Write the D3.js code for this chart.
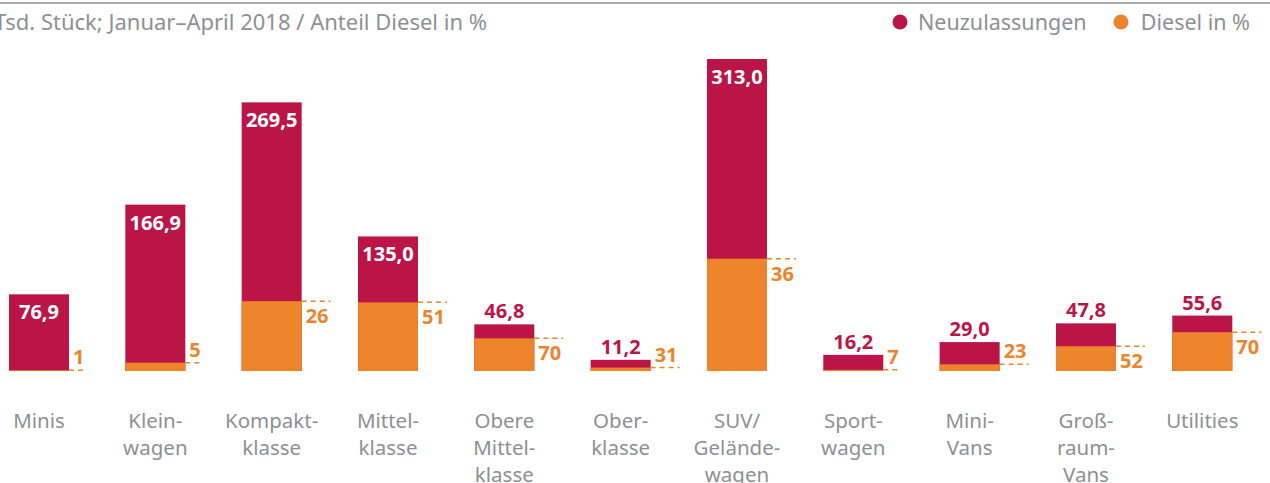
<!DOCTYPE html>
<html>
<head>
<meta charset="utf-8">
<script src="https://cdn.jsdelivr.net/npm/d3@7"></script>
<style>
  body { margin: 0; background: #fff; }
  svg { display: block; font-family: "Noto Sans", "Open Sans", sans-serif; }
</style>
</head>
<body>
<svg id="chart" width="1270" height="483"></svg>
<script>
// data
const categories = ["Minis", "Kleinwagen", "Kompaktklasse", "Mittelklasse", "Obere Mittelklasse",
  "Oberklasse", "SUV/Geländewagen", "Sportwagen", "Mini-Vans", "Großraum-Vans", "Utilities"];
const catLines = [["Minis"], ["Klein-", "wagen"], ["Kompakt-", "klasse"], ["Mittel-", "klasse"],
  ["Obere", "Mittel-", "klasse"], ["Ober-", "klasse"], ["SUV/", "Gelände-", "wagen"],
  ["Sport-", "wagen"], ["Mini-", "Vans"], ["Groß-", "raum-", "Vans"], ["Utilities"]];
const neuzulassungen = [76.9, 166.9, 269.5, 135.0, 46.8, 11.2, 313.0, 16.2, 29.0, 47.8, 55.6];
const dieselPct = [1, 5, 26, 51, 70, 31, 36, 7, 23, 52, 70];

const RED = "#bb1548", ORANGE = "#ed842c", GRAY = "#8e9093";
const fmt = v => d3.format(".1f")(v).replace(".", ",");

const data = categories.map((c, i) => ({
  cat: c, lines: catLines[i], val: neuzulassungen[i], pct: dieselPct[i]
}));

const svg = d3.select("#chart");

// ###############################
var xScale = d3.scaleBand()
  .domain(categories)
  .range([9, 9 + 11 * 116.3 - 56])
  .paddingInner(56.3 / 116.3)
  .paddingOuter(0);

var yScale = d3.scaleLinear()
  .domain([0, 313])
  .range([371, 59]);

// top rule
svg.append("line")
  .attr("x1", 0).attr("x2", 1270).attr("y1", 3).attr("y2", 3)
  .attr("stroke", "#ababab").attr("stroke-width", 2);

// title (left part clipped by the frame)
svg.append("text")
  .attr("x", 487).attr("y", 30)
  .attr("text-anchor", "end")
  .style("font-size", "22px")
  .style("fill", GRAY)
  .text("Tsd. Stück; Januar–April 2018 / Anteil Diesel in %");

// legend
const legend = [{ name: "Neuzulassungen", color: RED, cx: 900, tx: 918, anchor: "start" },
                { name: "Diesel in %", color: ORANGE, cx: 1121, tx: 1250, anchor: "end" }];
svg.selectAll("circle.leg")
  .data(legend)
  .join("circle")
    .attr("class", "leg")
    .attr("cx", d => d.cx).attr("cy", 22).attr("r", 7.5)
    .style("fill", d => d.color);
svg.selectAll("text.leg")
  .data(legend)
  .join("text")
    .attr("class", "leg")
    .attr("x", d => d.tx).attr("y", 30)
    .attr("text-anchor", d => d.anchor)
    .style("font-size", "21.5px")
    .style("fill", GRAY)
    .text(d => d.name);

// ###################################################
// bars
svg.selectAll("rect.total")
  .data(data)
  .join("rect")
    .attr("class", "total")
    .attr("x", d => xScale(d.cat))
    .attr("y", d => yScale(d.val))
    .attr("width", xScale.bandwidth())
    .attr("height", d => yScale(0) - yScale(d.val))
    .style("fill", RED);

svg.selectAll("rect.diesel")
  .data(data)
  .join("rect")
    .attr("class", "diesel")
    .attr("x", d => xScale(d.cat))
    .attr("y", d => yScale(d.val * d.pct / 100))
    .attr("width", xScale.bandwidth())
    .attr("height", d => yScale(0) - yScale(d.val * d.pct / 100))
    .style("fill", ORANGE);

// value labels
svg.selectAll("text.val")
  .data(data)
  .join("text")
    .attr("class", "val")
    .attr("x", d => xScale(d.cat) + xScale.bandwidth() / 2)
    .attr("y", d => (yScale(0) - yScale(d.val)) > 70 ? yScale(d.val) + 25 : yScale(d.val) - 6)
    .attr("text-anchor", "middle")
    .style("font-size", "20px")
    .style("font-weight", "bold")
    .style("fill", d => (yScale(0) - yScale(d.val)) > 70 ? "#fff" : RED)
    .text(d => fmt(d.val));

// diesel share labels + dashed markers
const dieselTop = d => yScale(d.val * d.pct / 100);
const below = d => (yScale(0) - dieselTop(d)) > 20;

const pctText = svg.selectAll("text.pct")
  .data(data)
  .join("text")
    .attr("class", "pct")
    .attr("x", d => xScale(d.cat) + xScale.bandwidth() + 4)
    .attr("y", d => below(d) ? dieselTop(d) + 22 : dieselTop(d) - 6)
    .style("font-size", "20px")
    .style("font-weight", "bold")
    .style("fill", ORANGE)
    .text(d => d.pct);

const widths = pctText.nodes().map(n => n.getComputedTextLength());

svg.selectAll("line.dash")
  .data(data)
  .join("line")
    .attr("class", "dash")
    .attr("x1", d => xScale(d.cat) + xScale.bandwidth())
    .attr("x2", (d, i) => xScale(d.cat) + xScale.bandwidth() + widths[i] + 6)
    .attr("y1", d => dieselTop(d))
    .attr("y2", d => dieselTop(d))
    .attr("stroke", ORANGE)
    .attr("stroke-width", 1.5)
    .attr("stroke-dasharray", "5,4");

// category labels
svg.selectAll("text.cat")
  .data(data)
  .join("text")
    .attr("class", "cat")
    .attr("x", d => xScale(d.cat) + xScale.bandwidth() / 2)
    .attr("y", 428)
    .attr("text-anchor", "middle")
    .style("font-size", "20.5px")
    .style("fill", GRAY)
    .selectAll("tspan")
    .data(d => d.lines)
    .join("tspan")
      .attr("x", function() { return d3.select(this.parentNode).attr("x"); })
      .attr("dy", (l, i) => i === 0 ? 0 : 27)
      .text(l => l);
</script>
</body>
</html>
